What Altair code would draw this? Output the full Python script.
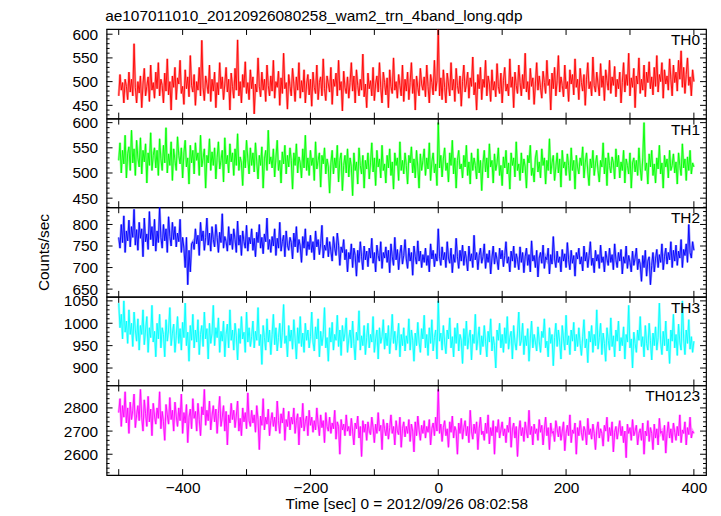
import altair as alt
import pandas as pd

FONT = "Liberation Sans"
FS = 15.5

times = list(range(-500, 401, 2))

th0 = [470, 515, 482, 498, 455, 505, 490, 462, 520, 478, 505, 470, 580, 488, 455,
       500, 476, 512, 445, 495, 528, 470, 490, 510, 458, 535, 482, 498, 465, 520,
       485, 540, 470, 505, 492, 455, 518, 480, 548, 472, 500, 440, 512, 488, 530,
       462, 508, 495, 545, 475, 490, 452, 525, 485, 510, 468, 555, 492, 478, 515,
       450, 500, 482, 530, 470, 587, 488, 460, 512, 495, 475, 535, 458, 505, 480,
       520, 445, 498, 472, 540, 485, 510, 462, 495, 530, 478, 505, 440, 518, 490,
       465, 528, 482, 588, 470, 500, 455, 515, 488, 542, 475, 498, 462, 525, 485,
       510, 432, 495, 478, 550, 490, 468, 520, 482, 505, 458, 535, 492, 470, 512,
       480, 545, 465, 500, 488, 522, 450, 508, 475, 560, 485, 498, 442, 515, 490,
       470, 528, 495, 458, 510, 482, 540, 465, 502, 478, 525, 455, 495, 515, 472,
       505, 448, 520, 488, 475, 535, 462, 498, 510, 470, 548, 485, 460, 512, 495,
       478, 530, 452, 505, 490, 518, 470, 545, 482, 500, 438, 522, 488, 475, 510,
       465, 498, 540, 480, 512, 455, 525, 492, 470, 505, 482, 558, 468, 495, 445,
       518, 485, 502, 470, 530, 460, 495, 512, 478, 540, 488, 455, 520, 498, 472,
       508, 445, 525, 490, 475, 550, 482, 500, 465, 515, 492, 470, 535, 458, 505,
       480, 520, 462, 498, 540, 475, 505, 440, 512, 488, 470, 528, 495, 482, 510,
       468, 535, 490, 455, 515, 498, 472, 545, 480, 502, 612, 470, 508, 462, 525,
       488, 455, 518, 495, 470, 540, 482, 505, 458, 528, 492, 475, 512, 448, 500,
       535, 478, 495, 520, 465, 508, 490, 552, 472, 498, 440, 515, 485, 530, 462,
       505, 488, 545, 470, 512, 495, 458, 525, 482, 500, 468, 538, 490, 475, 518,
       455, 502, 530, 480, 495, 470, 548, 488, 510, 445, 520, 492, 475, 535, 498,
       470, 515, 485, 560, 478, 500, 462, 528, 490, 508, 452, 495, 540, 482, 512,
       488, 465, 522, 498, 475, 545, 492, 505, 440, 518, 485, 530, 470, 502, 555,
       478, 510, 492, 468, 535, 485, 500, 458, 525, 495, 515, 472, 548, 488, 505,
       462, 528, 498, 480, 515, 450, 505, 540, 485, 500, 470, 552, 492, 478, 520,
       495, 470, 538, 488, 512, 460, 525, 502, 482, 545, 475, 510, 492, 532, 468,
       505, 485, 520, 455, 498, 540, 478, 515, 492, 560, 470, 508, 488, 528, 445,
       512, 495, 550, 475, 505, 482, 535, 468, 520, 498, 542, 485, 510, 472, 530,
       490, 555, 478, 515, 500, 540, 465, 525, 495, 512, 482, 548, 505, 470, 535,
       498, 520, 480, 545, 505, 565, 488, 530, 475, 515, 550, 492, 510, 470, 525,
       500]

th1 = [525, 560, 500, 545, 518, 575, 490, 538, 552, 505, 585, 520, 548, 495, 565,
       530, 512, 570, 498, 545, 522, 558, 480, 540, 515, 580, 505, 535, 550, 510,
       545, 495, 568, 528, 505, 555, 520, 590, 500, 538, 515, 562, 485, 548, 525,
       505, 572, 535, 518, 550, 490, 540, 565, 512, 530, 478, 555, 520, 545, 498,
       560, 525, 540, 495, 575, 512, 530, 548, 470, 535, 520, 568, 505, 542, 515,
       550, 488, 530, 562, 508, 525, 545, 482, 570, 518, 535, 500, 558, 522, 540,
       495, 548, 515, 578, 505, 532, 520, 475, 545, 510, 565, 528, 498, 550, 515,
       540, 502, 560, 522, 488, 535, 515, 552, 470, 528, 545, 505, 585, 518, 532,
       510, 548, 492, 530, 565, 505, 525, 480, 542, 518, 555, 498, 535, 512, 550,
       525, 468, 540, 515, 558, 500, 532, 520, 490, 548, 510, 575, 505, 530, 495,
       545, 515, 530, 485, 562, 508, 525, 540, 472, 535, 518, 550, 498, 528, 512,
       460, 520, 545, 498, 530, 510, 555, 482, 525, 540, 465, 515, 535, 500, 548,
       492, 530, 512, 455, 540, 505, 522, 478, 550, 515, 498, 535, 470, 525, 508,
       540, 488, 520, 560, 502, 530, 475, 545, 512, 528, 490, 555, 505, 518, 480,
       535, 510, 548, 495, 522, 468, 540, 515, 530, 485, 562, 505, 525, 498, 540,
       515, 478, 535, 520, 552, 500, 528, 490, 545, 512, 470, 538, 505, 525, 548,
       495, 530, 508, 560, 485, 522, 540, 500, 518, 475, 600, 510, 535, 492, 528,
       550, 505, 520, 482, 540, 515, 565, 498, 530, 470, 525, 545, 508, 518, 490,
       535, 512, 555, 495, 522, 478, 540, 505, 530, 515, 488, 548, 500, 525, 465,
       520, 545, 502, 530, 490, 558, 512, 525, 480, 538, 505, 520, 550, 495, 515,
       475, 532, 510, 545, 498, 520, 468, 540, 515, 530, 492, 562, 505, 518, 485,
       540, 500, 528, 512, 470, 535, 520, 555, 495, 510, 482, 530, 545, 502, 522,
       490, 548, 515, 530, 478, 525, 505, 568, 498, 520, 535, 485, 512, 540, 500,
       528, 472, 545, 510, 522, 495, 538, 515, 485, 550, 505, 525, 468, 535, 512,
       498, 530, 515, 552, 490, 520, 540, 502, 475, 528, 510, 545, 495, 518, 535,
       505, 482, 525, 512, 560, 498, 530, 475, 540, 515, 500, 532, 520, 488, 548,
       512, 535, 490, 522, 505, 545, 480, 528, 515, 498, 540, 470, 520, 530, 502,
       525, 495, 550, 510, 485, 530, 600, 505, 520, 478, 538, 512, 545, 495, 518,
       480, 530, 508, 555, 498, 520, 470, 535, 512, 528, 490, 545, 505, 515, 538,
       500, 522, 478, 540, 515, 495, 558, 510, 528, 485, 532, 505, 545, 498, 520,
       512]

th2 = [770, 745, 800, 758, 820, 735, 785, 762, 810, 748, 795, 770, 835, 752, 788,
       740, 805, 768, 790, 725, 815, 760, 778, 742, 830, 765, 795, 750, 812, 738,
       785, 758, 840, 770, 745, 800, 762, 790, 735, 818, 772, 750, 805, 765, 795,
       748, 780, 760, 812, 735, 770, 745, 700, 770, 660, 740, 690, 755, 760, 742,
       790, 755, 775, 728, 805, 762, 785, 740, 770, 815, 752, 780, 738, 795, 765,
       748, 800, 770, 735, 782, 758, 825, 745, 772, 760, 738, 795, 752, 778, 742,
       790, 765, 735, 808, 752, 775, 728, 785, 760, 745, 798, 738, 770, 755, 790,
       740, 768, 725, 782, 758, 800, 745, 770, 732, 778, 760, 815, 742, 765, 735,
       772, 750, 790, 728, 768, 745, 805, 738, 760, 775, 725, 785, 752, 740, 770,
       758, 720, 780, 748, 795, 735, 765, 750, 712, 772, 745, 790, 728, 760, 742,
       775, 735, 760, 718, 785, 748, 765, 730, 755, 798, 722, 752, 740, 770, 725,
       760, 738, 715, 772, 745, 728, 780, 752, 705, 748, 735, 765, 718, 742, 690,
       735, 720, 755, 700, 745, 728, 680, 740, 712, 760, 725, 695, 750, 718, 738,
       702, 745, 722, 768, 710, 735, 690, 752, 728, 715, 760, 698, 735, 722, 748,
       712, 740, 688, 755, 725, 705, 770, 718, 742, 695, 732, 752, 708, 728, 765,
       720, 698, 745, 715, 735, 682, 750, 725, 708, 762, 715, 738, 700, 730, 712,
       745, 705, 728, 690, 755, 720, 740, 702, 732, 715, 790, 725, 705, 748, 718,
       735, 700, 760, 722, 710, 745, 688, 730, 712, 768, 725, 698, 740, 715, 752,
       705, 738, 720, 692, 750, 715, 732, 700, 775, 718, 735, 695, 728, 745, 710,
       725, 755, 698, 732, 712, 740, 685, 722, 750, 708, 735, 718, 695, 745, 720,
       740, 702, 728, 760, 710, 725, 690, 738, 715, 750, 700, 732, 718, 695, 748,
       712, 735, 688, 725, 745, 705, 730, 690, 762, 715, 728, 700, 740, 678, 722,
       735, 710, 752, 698, 725, 718, 745, 685, 730, 708, 772, 720, 700, 738, 712,
       725, 690, 742, 715, 732, 700, 758, 718, 695, 740, 710, 728, 680, 735, 720,
       745, 708, 725, 692, 750, 715, 735, 700, 728, 760, 705, 722, 688, 740, 715,
       730, 698, 752, 712, 725, 690, 738, 720, 705, 745, 712, 730, 695, 755, 718,
       700, 735, 715, 742, 685, 725, 710, 750, 698, 728, 712, 690, 738, 705, 722,
       745, 695, 720, 708, 668, 728, 700, 740, 680, 715, 725, 660, 705, 735, 690,
       720, 742, 700, 730, 712, 755, 695, 725, 745, 708, 735, 718, 760, 700, 740,
       715, 752, 705, 738, 722, 765, 700, 742, 728, 755, 712, 800, 735, 722, 760,
       740]

th3 = [1045, 990, 1020, 965, 1050, 980, 1005, 955, 1030, 975, 1000, 948, 1025, 985, 960,
       1010, 940, 995, 975, 1030, 952, 985, 1015, 935, 990, 968, 1040, 958, 982, 925,
       1000, 965, 1020, 945, 990, 975, 925, 1008, 960, 985, 1035, 950, 978, 998, 935,
       972, 1015, 955, 988, 940, 1002, 968, 1045, 950, 980, 915, 995, 962, 1020, 945,
       985, 958, 1008, 930, 975, 995, 948, 1025, 965, 988, 920, 1000, 955, 978, 1040,
       950, 990, 968, 1012, 935, 982, 960, 1005, 925, 975, 998, 945, 1030, 962, 985,
       940, 1000, 972, 918, 988, 955, 1015, 965, 980, 935, 1025, 958, 990, 948, 970,
       1005, 945, 982, 962, 1035, 950, 975, 908, 995, 968, 940, 1010, 958, 985, 930,
       975, 1020, 952, 990, 938, 968, 1000, 945, 980, 1042, 955, 972, 925, 995, 960,
       985, 942, 1008, 965, 920, 990, 955, 1015, 948, 978, 935, 1000, 962, 985, 945,
       970, 1025, 958, 938, 992, 965, 1010, 925, 982, 950, 975, 1035, 945, 968, 915,
       990, 958, 1002, 940, 975, 962, 1018, 948, 985, 928, 995, 960, 978, 1012, 935,
       965, 985, 945, 1005, 955, 918, 980, 962, 1028, 940, 972, 950, 995, 930, 968,
       1000, 945, 975, 958, 1015, 935, 965, 985, 920, 990, 955, 970, 1008, 942, 978,
       950, 995, 932, 968, 1020, 955, 982, 940, 965, 1000, 925, 975, 950, 990, 938,
       972, 955, 1010, 940, 985, 962, 915, 978, 950, 1002, 958, 935, 988, 965, 1018,
       945, 975, 928, 990, 955, 1008, 938, 968, 985, 920, 1050, 960, 978, 940, 995,
       958, 932, 985, 965, 1012, 945, 970, 925, 990, 955, 1000, 938, 975, 962, 910,
       988, 950, 1005, 942, 968, 985, 918, 975, 955, 1020, 940, 965, 992, 930, 972,
       948, 995, 960, 925, 982, 958, 1010, 938, 970, 950, 900, 985, 962, 1000, 945,
       975, 935, 990, 955, 1015, 942, 968, 982, 920, 995, 958, 940, 978, 1025, 950,
       962, 1000, 930, 972, 950, 988, 915, 965, 1005, 945, 975, 958, 938, 992, 960,
       935, 982, 968, 1010, 945, 960, 925, 990, 955, 975, 905, 968, 1000, 948, 985,
       958, 920, 995, 965, 940, 1018, 952, 972, 930, 985, 960, 1002, 938, 975, 948,
       990, 955, 928, 970, 1008, 945, 965, 912, 982, 958, 995, 935, 975, 950, 1030,
       942, 968, 1000, 930, 978, 955, 915, 990, 962, 940, 1012, 948, 972, 925, 985,
       960, 1005, 938, 968, 950, 992, 920, 975, 958, 1040, 945, 965, 900, 980, 955,
       935, 985, 962, 1015, 948, 970, 925, 995, 955, 940, 1000, 962, 918, 978, 950,
       992, 940, 968, 1045, 958, 930, 982, 950, 1005, 938, 965, 910, 985, 960, 1020,
       945, 975, 928, 998, 958, 940, 1050, 965, 930, 985, 955, 1008, 942, 970, 935,
       960]

th0123 = [2780, 2840, 2720, 2810, 2760, 2870, 2735, 2800, 2690, 2825, 2750, 2790, 2860, 2715, 2770,
          2810, 2745, 2880, 2760, 2700, 2835, 2775, 2720, 2850, 2740, 2795, 2680, 2820, 2765, 2730,
          2800, 2755, 2870, 2710, 2785, 2740, 2660, 2815, 2770, 2730, 2845, 2750, 2790, 2700, 2825,
          2765, 2720, 2800, 2745, 2860, 2690, 2780, 2735, 2815, 2650, 2760, 2795, 2710, 2840, 2755,
          2785, 2700, 2820, 2750, 2680, 2805, 2770, 2880, 2725, 2790, 2745, 2830, 2705, 2765, 2810,
          2740, 2795, 2690, 2775, 2850, 2720, 2760, 2810, 2700, 2785, 2640, 2770, 2735, 2820, 2750,
          2790, 2715, 2765, 2830, 2700, 2755, 2680, 2800, 2740, 2780, 2710, 2865, 2745, 2720, 2790,
          2735, 2770, 2695, 2810, 2750, 2620, 2765, 2725, 2840, 2705, 2760, 2730, 2795, 2680, 2745,
          2780, 2720, 2760, 2700, 2830, 2745, 2690, 2775, 2735, 2800, 2660, 2750, 2720, 2785, 2705,
          2760, 2730, 2800, 2690, 2745, 2775, 2640, 2760, 2715, 2820, 2700, 2740, 2765, 2680, 2790,
          2725, 2760, 2695, 2745, 2705, 2800, 2730, 2680, 2770, 2715, 2745, 2650, 2780, 2720, 2700,
          2760, 2690, 2735, 2710, 2790, 2665, 2740, 2720, 2600, 2750, 2705, 2730, 2680, 2770, 2700,
          2720, 2680, 2755, 2700, 2640, 2735, 2710, 2765, 2670, 2720, 2590, 2745, 2695, 2730, 2660,
          2740, 2700, 2685, 2760, 2715, 2650, 2730, 2690, 2780, 2700, 2725, 2620, 2750, 2710, 2680,
          2735, 2665, 2715, 2770, 2690, 2720, 2640, 2745, 2700, 2685, 2760, 2630, 2710, 2740, 2675,
          2720, 2690, 2750, 2655, 2730, 2700, 2610, 2740, 2680, 2765, 2705, 2660, 2725, 2690, 2745,
          2670, 2720, 2695, 2750, 2640, 2710, 2735, 2680, 2760, 2700, 2880, 2690, 2730, 2655, 2715,
          2745, 2680, 2710, 2630, 2740, 2695, 2765, 2670, 2720, 2700, 2600, 2735, 2690, 2755, 2665,
          2715, 2745, 2680, 2720, 2650, 2790, 2700, 2665, 2730, 2690, 2740, 2620, 2710, 2760, 2685,
          2700, 2660, 2735, 2690, 2770, 2645, 2715, 2680, 2745, 2600, 2720, 2695, 2750, 2670, 2705,
          2740, 2680, 2710, 2650, 2725, 2695, 2760, 2630, 2705, 2735, 2670, 2720, 2590, 2700, 2745,
          2680, 2715, 2655, 2740, 2700, 2670, 2790, 2685, 2720, 2640, 2730, 2690, 2710, 2660, 2750,
          2695, 2725, 2640, 2705, 2760, 2680, 2715, 2620, 2735, 2690, 2700, 2655, 2745, 2710, 2675,
          2720, 2660, 2700, 2740, 2615, 2690, 2725, 2680, 2770, 2650, 2705, 2690, 2735, 2600, 2715,
          2680, 2745, 2695, 2660, 2720, 2700, 2640, 2755, 2685, 2710, 2665, 2730, 2690, 2620, 2705,
          2740, 2670, 2710, 2690, 2635, 2725, 2700, 2760, 2655, 2715, 2680, 2740, 2610, 2695, 2720,
          2665, 2705, 2745, 2680, 2720, 2650, 2700, 2585, 2730, 2690, 2715, 2660, 2750, 2680, 2700,
          2725, 2640, 2690, 2710, 2660, 2735, 2600, 2700, 2680, 2745, 2655, 2715, 2690, 2620, 2730,
          2670, 2710, 2640, 2755, 2690, 2700, 2660, 2725, 2605, 2690, 2740, 2670, 2710, 2650, 2735,
          2695, 2660, 2720, 2680, 2770, 2650, 2705, 2690, 2740, 2640, 2715, 2685, 2760, 2670, 2700,
          2690]

names = ["TH0", "TH1", "TH2", "TH3", "TH0123"]
colors = ["#ff0000", "#00ff00", "#0000ff", "#00ffff", "#ff00ff"]
series = [th0, th1, th2, th3, th0123]
ydomains = [[422, 611], [432, 608], [632, 840], [861, 1059], [2510, 2897]]
ymajor = [[450, 500, 550, 600], [450, 500, 550, 600], [650, 700, 750, 800],
          [900, 950, 1000, 1050], [2600, 2700, 2800]]
yminor_step = [10, 10, 10, 10, 20]
x_domain = [-519, 419]
x_major = [-500, -400, -300, -200, -100, 0, 100, 200, 300, 400]
x_labels = [-400, -200, 0, 200, 400]
title_text = "ae107011010_20120926080258_wam2_trn_4band_long.qdp"
x_title = "Time [sec] 0 = 2012/09/26 08:02:58"
y_title = "Counts/sec"

W = 602
heights = [90, 89, 90, 89, 90]
MAJ = 6
MIN = 3


def panel(i):
    h = heights[i]
    lo, hi = ydomains[i]
    step = yminor_step[i]
    minor = [v for v in range(int(lo // step * step), int(hi) + 1, step)
             if lo <= v <= hi and v not in ymajor[i]]
    xs = alt.Scale(domain=x_domain, nice=False, zero=False)
    ys = alt.Scale(domain=ydomains[i], nice=False, zero=False)
    last = i == len(names) - 1
    if last:
        xax = alt.Axis(values=x_labels, ticks=False, domain=False, grid=False,
                       labelPadding=5, title=x_title, titlePadding=1,
                       labelFlush=False, format="d")
    else:
        xax = None
    if i == 2:
        yax = alt.Axis(values=ymajor[i], ticks=False, domain=False, grid=False,
                       labelPadding=9, title=y_title, titlePadding=20, format="d")
    else:
        yax = alt.Axis(values=ymajor[i], ticks=False, domain=False, grid=False,
                       labelPadding=9, title=None, format="d")

    def X():
        return alt.X("t:Q", scale=xs, axis=xax)

    def Y():
        return alt.Y("v:Q", scale=ys, axis=yax)

    df = pd.DataFrame({"t": times, "v": series[i]})
    base = alt.Chart(df)
    glow = base.mark_line(color=colors[i], strokeWidth=2.4, opacity=0.4, clip=True).encode(x=X(), y=Y())
    line = base.mark_line(color=colors[i], strokeWidth=0.9, clip=True).encode(x=X(), y=Y())
    ymaj_df = pd.DataFrame({"v": ymajor[i]})
    ymin_df = pd.DataFrame({"v": minor})
    xmaj_df = pd.DataFrame({"t": x_major})
    layers = [glow, line]
    for d, ln in ((ymaj_df, MAJ), (ymin_df, MIN)):
        layers.append(alt.Chart(d).mark_rule(color="black", strokeWidth=1).encode(
            y=Y(), x=alt.value(0), x2=alt.value(ln)))
        layers.append(alt.Chart(d).mark_rule(color="black", strokeWidth=1).encode(
            y=Y(), x=alt.value(W - ln), x2=alt.value(W)))
    layers.append(alt.Chart(xmaj_df).mark_rule(color="black", strokeWidth=1).encode(
        x=X(), y=alt.value(0), y2=alt.value(MAJ)))
    layers.append(alt.Chart(xmaj_df).mark_rule(color="black", strokeWidth=1).encode(
        x=X(), y=alt.value(h - MAJ), y2=alt.value(h)))
    lab = pd.DataFrame({"label": [names[i]]})
    layers.append(alt.Chart(lab).mark_text(align="right", baseline="alphabetic",
                                           font=FONT, fontSize=FS, color="black").encode(
        text="label:N", x=alt.value(W - 6), y=alt.value(16)))
    return alt.layer(*layers).properties(width=W, height=h)


chart = alt.vconcat(*[panel(i) for i in range(5)], spacing=0, bounds="flush").properties(
    title=alt.TitleParams(title_text, anchor="start", font=FONT, fontSize=FS,
                          fontWeight="normal", color="black", offset=2, dx=69),
    padding={"left": 28, "top": 0, "right": 5, "bottom": 1},
    background="white",
).configure_view(stroke="black", strokeWidth=1.2).configure_axis(
    labelFont=FONT, labelFontSize=FS, labelColor="black",
    titleFont=FONT, titleFontSize=FS, titleFontWeight="normal", titleColor="black",
)

chart.save("out.html", embed_options={"renderer": "svg", "actions": False})
